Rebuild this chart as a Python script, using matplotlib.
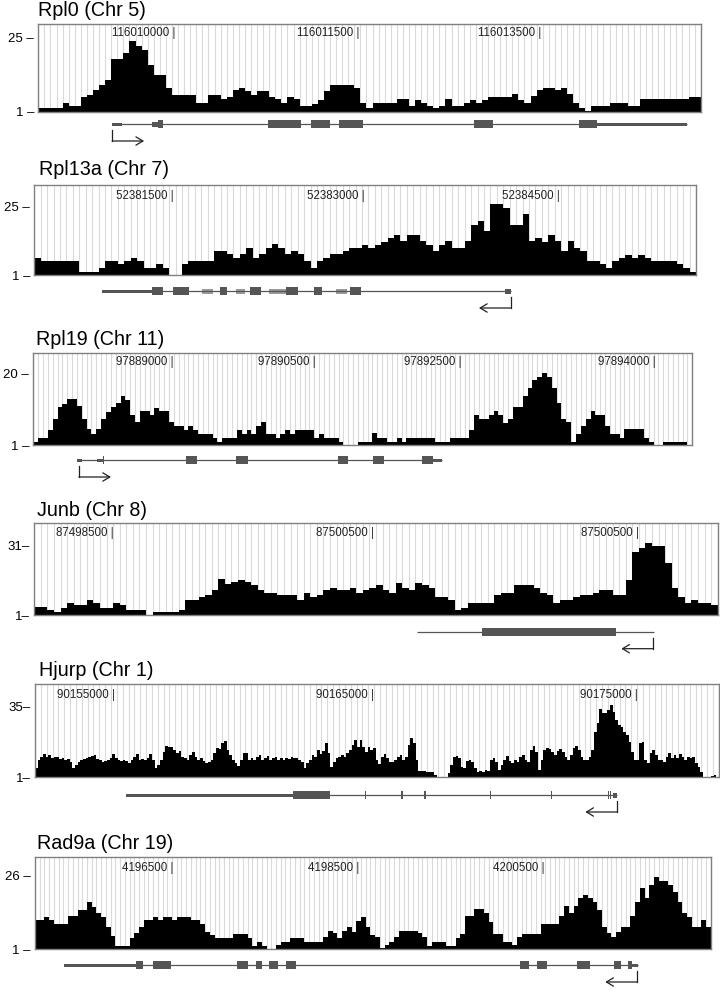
import numpy as np
import matplotlib
matplotlib.use("Agg")
import matplotlib.pyplot as plt
from matplotlib.patches import Rectangle

plt.rcParams['font.family'] = ['Liberation Sans', 'DejaVu Sans']

# ---------------- data ----------------
titles = ["Rpl0 (Chr 5)", "Rpl13a (Chr 7)", "Rpl19 (Chr 11)",
          "Junb (Chr 8)", "Hjurp (Chr 1)", "Rad9a (Chr 19)"]

rpl0_cov = [2.2,2.2,2.2,2.2,3.9,3.0,3.0,5.9,6.6,8.0,
            9.6,11.5,18.2,18.2,20.1,23.9,22.3,21.2,16.1,13.1,
            13.1,8.8,6.6,6.6,6.6,6.6,3.9,3.9,6.6,6.6,
            5.2,5.9,8.0,8.7,7.7,6.6,7.9,7.9,5.9,5.2,
            3.9,5.9,5.2,2.8,2.8,3.7,5.0,7.7,9.6,9.6,
            9.6,9.6,8.8,3.9,2.3,3.9,3.9,3.9,3.9,5.2,
            5.2,3.0,5.0,3.9,3.0,2.3,3.0,5.2,3.0,3.0,
            3.9,5.0,3.9,5.0,5.9,5.9,5.9,5.9,6.8,5.0,
            3.9,6.1,8.0,8.8,8.8,8.0,8.8,6.8,3.9,2.3,
            1.2,3.0,3.0,3.0,3.9,3.9,3.9,2.8,2.8,5.2,
            5.2,5.2,5.2,5.2,5.2,5.2,5.2,5.9,5.9]

rpl13a_cov = [7.1,5.9,5.9,5.9,5.9,5.9,5.9,2.2,2.2,2.2,
              3.6,5.9,5.9,4.7,5.9,7.1,5.9,3.6,3.6,4.7,
              3.6,1.0,1.0,4.7,5.9,5.9,5.9,5.9,9.5,9.5,
              8.3,7.1,8.3,10.6,7.1,8.3,10.4,11.8,10.6,8.3,
              9.4,8.3,5.9,3.6,5.9,7.1,8.3,8.3,9.4,10.6,
              10.6,11.5,10.6,11.5,12.7,13.9,15.0,12.9,15.0,15.0,
              12.9,11.5,9.4,11.5,12.9,10.6,10.6,12.9,18.5,19.9,
              16.4,25.8,25.8,24.4,18.5,18.5,22.3,12.9,13.9,12.7,
              15.0,12.9,9.4,12.9,10.6,9.4,5.9,5.9,4.7,3.6,
              5.9,7.1,8.0,7.1,8.0,7.1,5.9,5.9,5.9,5.9,
              4.7,3.6,2.2]

rpl19_cov = [1.9,2.9,2.9,5.0,7.9,11.0,11.9,13.1,13.1,11.3,
             7.9,5.2,3.9,5.2,7.9,9.8,11.0,12.2,14.0,12.8,
             9.0,7.2,10.1,10.1,9.0,10.9,10.1,10.1,7.2,6.0,
             6.0,5.0,6.0,5.0,3.9,3.9,3.9,2.9,1.9,2.9,
             2.9,2.9,5.0,3.9,5.0,3.9,6.0,7.0,3.9,3.9,
             2.9,3.9,5.0,3.9,5.0,5.0,5.0,5.0,2.9,3.9,
             2.9,2.9,2.9,1.9,1.0,1.0,1.0,
             1.9,1.9,1.9,4.1,2.9,2.9,1.9,1.9,2.9,1.9,
             2.9,2.9,2.9,2.9,2.9,2.9,1.9,1.9,1.9,2.9,
             2.9,2.9,2.9,5.0,9.0,7.9,7.9,9.0,10.1,9.0,
             6.9,7.9,11.0,11.0,14.0,16.0,18.1,19.1,20.0,19.1,
             16.0,12.1,7.9,7.2,1.9,3.9,6.0,7.9,10.1,9.0,
             9.0,6.0,3.9,3.9,2.9,5.2,5.2,5.2,5.2,2.9,
             1.9,1.0,1.0,1.9,1.9,1.9,1.9,1.9,1.0]

junb_cov = [4.6,4.6,3.1,2.1,4.1,6.3,5.3,5.3,7.4,6.3,
            4.1,4.1,6.3,5.3,3.1,3.1,3.1,1.0,2.1,2.1,
            2.1,2.1,3.1,7.4,7.4,8.6,9.6,11.7,16.3,14.1,
            15.0,16.0,15.0,13.9,11.7,10.6,10.6,9.6,9.6,9.6,
            7.4,10.6,8.6,9.6,11.7,12.4,11.7,11.7,12.4,10.6,
            11.7,12.7,13.9,11.7,10.6,14.9,12.7,11.7,14.9,13.9,
            12.7,8.6,8.6,7.4,3.1,3.9,6.3,6.3,6.3,6.3,
            9.6,10.6,10.6,13.9,13.9,13.9,12.7,10.6,9.6,6.3,
            7.4,7.4,8.6,9.6,9.6,10.6,11.7,11.7,9.6,9.6,
            16.0,28.1,29.9,32.0,30.6,30.6,23.4,12.4,8.6,6.3,
            7.4,6.3,6.3,5.3]

hjurp_cov = [5.3,9.3,10.9,12.2,10.9,11.7,10.1,10.9,10.6,9.8,
             10.1,9.3,9.8,8.5,5.3,6.9,8.5,9.3,9.7,10.1,
             10.9,11.4,11.7,9.8,9.3,8.5,8.9,9.3,10.1,12.2,
             10.5,9.3,9.0,9.3,8.9,7.7,9.3,10.9,12.2,9.3,
             9.8,9.3,10.5,12.2,9.3,5.3,6.9,9.3,13.4,16.1,
             15.4,15.4,14.2,12.5,13.8,10.9,10.1,9.3,11.7,13.4,
             10.9,9.3,10.1,9.0,7.7,8.5,9.3,12.5,15.0,14.5,
             17.4,18.5,14.2,11.7,9.3,7.7,6.5,9.3,12.5,12.9,
             9.3,10.5,9.3,10.9,11.7,9.3,10.1,11.3,9.3,10.1,
             10.6,9.3,10.1,9.3,10.1,9.7,10.9,10.1,10.5,9.3,
             8.5,5.3,7.7,9.3,11.7,10.9,14.2,12.1,13.8,17.4,
             12.5,6.1,8.5,10.1,10.9,11.7,10.6,12.9,14.2,16.6,
             19.0,15.4,
             19.0,15.8,13.4,15.4,14.2,15.0,9.3,7.4,10.9,12.2,
             10.1,8.5,8.5,9.3,10.9,11.7,9.3,10.9,16.6,19.8,
             17.4,9.3,4.0,4.0,4.0,3.7,3.7,3.7,2.1,1.3,
             1.0,1.0,1.0,2.9,6.9,10.9,11.3,10.1,6.1,5.3,
             8.9,9.3,8.5,5.3,3.7,4.0,3.7,4.5,4.2,9.3,
             10.1,8.5,4.5,6.9,9.3,11.3,9.0,7.7,9.3,8.5,
             10.9,11.7,9.3,8.5,14.2,16.1,13.4,4.5,9.3,14.2,
             15.0,14.5,13.4,11.7,13.8,14.5,13.4,10.9,9.3,11.7,
             15.0,16.1,14.2,10.9,9.3,9.3,10.9,14.2,23.0,27.0,
             33.7,31.8,32.1,33.4,35.8,32.6,28.6,26.2,25.4,23.0,
             21.4,18.2,13.4,9.3,9.3,17.4,18.2,9.3,7.7,12.5,
             14.2,11.7,9.3,9.3,8.5,10.9,12.5,10.1,11.7,10.1,
             12.1,10.9,9.3,10.9,10.1,10.9,7.7,6.1,3.7,1.3,
             1.0,1.0,1.6,2.1,1.0]

rad9a_cov = [10.9,10.9,12.1,10.9,9.6,9.6,9.6,12.3,12.3,14.4,
             14.4,17.2,15.5,13.2,11.8,8.7,5.5,2.1,2.1,2.1,
             4.7,6.4,8.7,10.9,10.9,12.1,10.9,12.1,12.1,10.9,
             12.1,12.1,12.1,10.9,10.9,9.5,6.9,5.8,4.9,4.9,
             4.9,4.9,6.0,6.0,6.0,4.9,2.1,3.5,2.1,1.0,
             1.0,2.4,3.5,3.5,4.9,4.9,4.9,3.5,3.5,3.5,
             3.5,5.2,7.3,6.6,4.9,7.3,8.7,6.9,10.7,
             12.1,8.7,5.8,5.0,1.2,2.4,3.5,5.0,7.3,7.3,
             7.3,7.3,6.6,5.0,2.1,3.5,3.5,3.5,2.1,2.1,
             4.7,6.0,12.3,12.3,14.6,14.6,13.2,10.4,6.0,6.0,
             3.5,3.5,2.4,5.0,6.0,6.0,6.0,6.0,9.6,9.6,
             9.6,9.6,12.3,15.7,13.4,15.7,18.4,19.5,18.4,17.2,
             14.4,8.7,6.4,5.0,6.9,8.7,8.7,12.3,17.2,21.8,
             18.4,22.9,25.6,24.4,24.4,22.9,20.6,17.2,13.2,12.1,
             8.7,8.7,10.9,8.7]

coverage = [rpl0_cov, rpl13a_cov, rpl19_cov, junb_cov, hjurp_cov, rad9a_cov]

y_tick_values = [25, 25, 20, 31, 35, 26]
y_tick_labels = [["1 \u2013", "25 \u2013"], ["1 \u2013", "25 \u2013"], ["1 \u2013", "20 \u2013"],
                 ["1\u2013", "31\u2013"], ["1\u2013", "35\u2013"], ["1 \u2013", "26 \u2013"]]

pos_labels = [["116010000 |", "116011500 |", "116013500 |"],
              ["52381500 |", "52383000 |", "52384500 |"],
              ["97889000 |", "97890500 |", "97892500 |", "97894000 |"],
              ["87498500 |", "87500500 |", "87500500 |"],
              ["90155000 |", "90165000 |", "90175000 |"],
              ["4196500 |", "4198500 |", "4200500 |"]]
pos_label_x = [[0.2074, 0.4841, 0.7600],
               [0.2101, 0.4998, 0.7945],
               [0.2124, 0.4290, 0.6501, 0.9445],
               [0.1156, 0.4971, 0.8853],
               [0.1170, 0.4956, 0.8806],
               [0.2047, 0.4795, 0.7533]]

# gene models (fractions of track width)
gene_span = [(0.1114, 0.9793), (0.1019, 0.7204), (0.0668, 0.6206),
             (0.5604, 0.9072), (0.1330, 0.8509), (0.0429, 0.8929)]
gene_exons = [
    [(0.1812, 0.1887), (0.3472, 0.3966), (0.4117, 0.4404), (0.4544, 0.4906),
     (0.6582, 0.6869), (0.8163, 0.8439)],
    [(0.1774, 0.1940), (0.2101, 0.2338), (0.2806, 0.2917), (0.3260, 0.3422),
     (0.3804, 0.3981), (0.4232, 0.4353), (0.4771, 0.4937)],
    [(0.1062, 0.1080), (0.2313, 0.2480), (0.3071, 0.3253), (0.4619, 0.4780),
     (0.5159, 0.5326), (0.5894, 0.6061)],
    [(0.6547, 0.8508)],
    [(0.3768, 0.4313), (0.4818, 0.4840), (0.5354, 0.5376), (0.5690, 0.5722),
     (0.6645, 0.6662), (0.7547, 0.7564), (0.8375, 0.8392), (0.8412, 0.8428)],
    [(0.1495, 0.1603), (0.1742, 0.2008), (0.2985, 0.3157), (0.3266, 0.3355),
     (0.3463, 0.3601), (0.3715, 0.3863), (0.7178, 0.7311), (0.7434, 0.7582),
     (0.8026, 0.8214), (0.8569, 0.8673), (0.8780, 0.8830)],
]
gene_light_exons = [[], [(0.2539, 0.2705), (0.3048, 0.3184), (0.3551, 0.3804), (0.4559, 0.4725)],
                    [], [], [], []]
gene_utrs = [
    [(0.1114, 0.1259), (0.8439, 0.9793)],
    [(0.1019, 0.1774)],
    [(0.0668, 0.0744), (0.0971, 0.1062), (0.6061, 0.6206)],
    [],
    [(0.1330, 0.3768)],
    [(0.0429, 0.1495), (0.8830, 0.8929)],
]
gene_mid_utrs = [[(0.1712, 0.1812)], [(0.7114, 0.7204)], [], [], [(0.8445, 0.8509)], []]
gene_tss = [(0.1114, 1), (0.7204, -1), (0.0693, 1), (0.9058, -1), (0.8513, -1), (0.8913, -1)]

# ---------------- layout (pixels) ----------------
FW, FH = 720, 992
# left, top, right, bottom of track box; y max; title x, title baseline; gene line y; grid count
layout = [
    (38.3, 24.0, 700.7, 112.0, 29.5, 38.3, 15.7, 124.0, None),
    (34.3, 185.0, 696.0, 275.0, 32.6, 39.0, 175.0, 291.0, None),
    (33.3, 353.3, 692.3, 445.0, 25.3, 36.0, 345.0, 460.0, None),
    (34.3, 522.7, 717.7, 615.0, 40.6, 36.7, 516.0, 631.7, None),
    (35.0, 684.3, 719.0, 777.3, 45.8, 39.0, 676.0, 795.0, 117),
    (35.0, 857.3, 710.7, 949.0, 32.4, 36.7, 849.3, 965.0, None),
]
pos_label_y = [0.894, 0.878, 0.902, 0.885, 0.885, 0.887]

fig = plt.figure(figsize=(FW / 100, FH / 100), dpi=100)

DARK = '#555555'
LIGHT = '#9a9a9a'

for i in range(6):
    L, T, R, B, ytop, tx, tb, ly, ngrid = layout[i]
    vals = np.asarray(coverage[i], dtype=float)
    n = len(vals)
    ax = fig.add_axes([L / FW, 1 - B / FH, (R - L) / FW, (B - T) / FH])
    edges = np.arange(n + 1)
    ax.stairs(vals, edges, baseline=1, fill=True, color='black', zorder=2)
    ax.set_xlim(0, n)
    ax.set_ylim(1, ytop)
    # grid
    g = n if ngrid is None else ngrid
    ax.set_xticks(np.linspace(0, n, g + 1), minor=True)
    ax.set_xticks([])
    ax.grid(which='minor', axis='x', color='#dadada', lw=0.8)
    ax.set_axisbelow(True)
    ax.tick_params(axis='x', which='both', length=0, labelbottom=False)
    ax.set_yticks([1, y_tick_values[i]])
    ax.set_yticklabels(y_tick_labels[i], fontsize=9.5)
    ax.tick_params(axis='y', length=0, pad=3)
    for s in ax.spines.values():
        s.set_color('#808080')
        s.set_linewidth(1.0)
        s.set_zorder(3)
    for txt, fx in zip(pos_labels[i], pos_label_x[i]):
        ax.text(fx, pos_label_y[i], txt, transform=ax.transAxes, ha='right',
                va='center', fontsize=8.3, color='#222222', zorder=4)
    fig.text(tx / FW, 1 - tb / FH, titles[i], fontsize=14.2, ha='left', va='baseline')

    # gene model axes
    gtop, gbot = B + 1, B + 45
    gx = fig.add_axes([L / FW, 1 - gbot / FH, (R - L) / FW, (gbot - gtop) / FH])
    gx.set_xlim(0, 1)
    gx.set_ylim(gbot, gtop)
    gx.axis('off')
    s0, s1 = gene_span[i]
    gx.plot([s0, s1], [ly, ly], color=DARK, lw=0.9, solid_capstyle='butt')
    for (a, b) in gene_utrs[i]:
        gx.add_patch(Rectangle((a, ly - 1.5), b - a, 3.0, color=DARK, lw=0))
    for (a, b) in gene_mid_utrs[i]:
        gx.add_patch(Rectangle((a, ly - 2.5), b - a, 5.0, color=DARK, lw=0))
    for (a, b) in gene_light_exons[i]:
        gx.add_patch(Rectangle((a, ly - 2.5), b - a, 5.0, color=LIGHT, lw=0))
    for (a, b) in gene_exons[i]:
        gx.add_patch(Rectangle((a, ly - 4.0), b - a, 8.0, color=DARK, lw=0))
    tss, d = gene_tss[i]
    alen = 32.0 / (R - L)
    gx.plot([tss, tss], [ly + 6, ly + 17], color='#222222', lw=0.9)
    gx.annotate('', xy=(tss + d * alen, ly + 17), xytext=(tss, ly + 17),
                arrowprops=dict(arrowstyle='->,head_length=0.5,head_width=0.3',
                                lw=0.9, color='#222222', shrinkA=0, shrinkB=0))

fig.savefig('out.png', dpi=100)
